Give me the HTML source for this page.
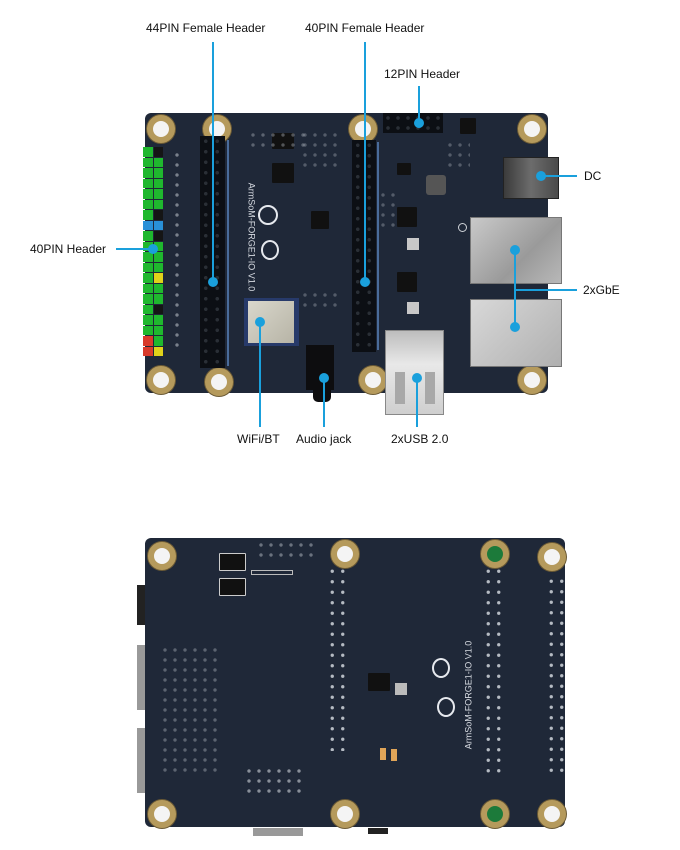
<!DOCTYPE html>
<html><head><style>
body{margin:0;width:680px;height:850px;background:#fff;position:relative;overflow:hidden;font-family:"Liberation Sans",sans-serif}
.a{position:absolute}
.board{background:#1f2838;border-radius:6px}
.hole{position:absolute;width:16px;height:16px;border-radius:50%;background:#f4f4f4;border:6px solid #b59a5c;box-shadow:0 0 0 1px #6b5a35}
.lbl{position:absolute;font-size:12px;color:#111;white-space:nowrap}
.ln{position:absolute;background:#1aa0dc}
.dot{position:absolute;width:10px;height:10px;border-radius:50%;background:#1aa0dc}
.fh{position:absolute;background:#0c0f14;background-image:radial-gradient(circle,#2a2f36 1.6px,transparent 2px);background-size:11.5px 10.5px}
.chip{position:absolute;background:#111;border-radius:1px}
.eth{position:absolute;background:linear-gradient(135deg,#c9c9c9,#9a9a9a 60%,#b8b8b8);border:1px solid #777}
.pad{position:absolute;background-image:radial-gradient(circle,#b5bbc3 1.4px,transparent 2px);background-size:10px 10px}
.silk{position:absolute;color:#d7dbe2;font-size:9px}
</style></head><body>

<!-- ===== top board ===== -->
<div class="a board" style="left:145px;top:113px;width:403px;height:280px"></div>
<div class="hole" style="left:147px;top:115px"></div>
<div class="hole" style="left:203px;top:115px"></div>
<div class="hole" style="left:349px;top:115px"></div>
<div class="hole" style="left:518px;top:115px"></div>
<div class="hole" style="left:147px;top:366px"></div>
<div class="hole" style="left:205px;top:368px"></div>
<div class="hole" style="left:359px;top:366px"></div>
<div class="hole" style="left:518px;top:366px"></div>

<div id="ph" class="a" style="left:143px;top:147px;width:21px;height:210px"></div>
<div class="pad" style="left:172px;top:150px;width:12px;height:200px;opacity:.6"></div>
<div class="fh" style="left:200px;top:136px;width:25px;height:232px"></div>
<div class="a" style="left:227px;top:140px;width:2px;height:226px;background:#4a6c9a"></div>
<div class="fh" style="left:352px;top:140px;width:24px;height:212px"></div>
<div class="a" style="left:377px;top:142px;width:2px;height:208px;background:#4a6c9a"></div>
<div class="fh" style="left:383px;top:113px;width:60px;height:20px;background-size:10px 10px"></div>
<div class="chip" style="left:272px;top:133px;width:22px;height:16px"></div>
<div class="chip" style="left:272px;top:163px;width:22px;height:20px"></div>
<div class="chip" style="left:311px;top:211px;width:18px;height:18px"></div>
<div class="chip" style="left:397px;top:207px;width:20px;height:20px"></div>
<div class="chip" style="left:397px;top:272px;width:20px;height:20px"></div>
<div class="chip" style="left:397px;top:163px;width:14px;height:12px"></div>
<div class="chip" style="left:460px;top:118px;width:16px;height:16px"></div>
<div class="a" style="left:426px;top:175px;width:20px;height:20px;background:#555;border-radius:3px"></div>
<div class="a" style="left:407px;top:238px;width:12px;height:12px;background:#c8c8c8"></div>
<div class="a" style="left:407px;top:302px;width:12px;height:12px;background:#c8c8c8"></div>
<div class="a" style="left:458px;top:223px;width:7px;height:7px;border-radius:50%;border:1px solid #cfd3d8"></div>
<div class="pad" style="left:248px;top:130px;width:60px;height:22px;opacity:.4"></div>
<div class="pad" style="left:300px;top:130px;width:40px;height:40px;opacity:.35"></div>
<div class="pad" style="left:378px;top:190px;width:20px;height:40px;opacity:.35"></div>
<div class="pad" style="left:445px;top:140px;width:25px;height:30px;opacity:.35"></div>
<div class="pad" style="left:300px;top:290px;width:40px;height:20px;opacity:.35"></div>
<div class="a" style="left:258px;top:205px;width:16px;height:16px;border:2px solid #e6e9ee;border-radius:50%"></div>
<div class="a" style="left:261px;top:240px;width:14px;height:16px;border:2px solid #e6e9ee;border-radius:50%"></div>
<div class="silk" style="left:197px;top:232px;transform:rotate(90deg);font-size:9px">ArmSoM-FORGE1-IO V1.0</div>
<div class="a" style="left:244px;top:298px;width:55px;height:48px;background:#273a6a"></div>
<div class="a" style="left:248px;top:301px;width:46px;height:42px;background:linear-gradient(135deg,#d9d7cc,#b7b4a6)"></div>
<div class="a" style="left:306px;top:345px;width:28px;height:45px;background:#0d0d0f"></div>
<div class="a" style="left:313px;top:388px;width:18px;height:14px;background:#0d0d0f;border-radius:0 0 5px 5px"></div>
<div class="a" style="left:385px;top:330px;width:57px;height:83px;background:linear-gradient(180deg,#bdbdbd,#e8e8e8 40%,#cfcfcf);border:1px solid #888"></div>
<div class="a" style="left:395px;top:372px;width:10px;height:32px;background:#a8a8a8"></div>
<div class="a" style="left:425px;top:372px;width:10px;height:32px;background:#a8a8a8"></div>
<div class="a" style="left:503px;top:157px;width:54px;height:40px;background:linear-gradient(90deg,#3b3b3b,#6c6c6c 50%,#4a4a4a);border:1px solid #222"></div>
<div class="eth" style="left:470px;top:217px;width:90px;height:65px"></div>
<div class="eth" style="left:470px;top:299px;width:90px;height:66px;background:linear-gradient(135deg,#d8d8d8,#b0b0b0)"></div>

<div class="lbl" style="left:146px;top:21px">44PIN Female Header</div>
<div class="ln" style="left:212px;top:42px;width:2px;height:240px"></div>
<div class="dot" style="left:208px;top:277px"></div>
<div class="lbl" style="left:305px;top:21px">40PIN Female Header</div>
<div class="ln" style="left:364px;top:42px;width:2px;height:240px"></div>
<div class="dot" style="left:360px;top:277px"></div>
<div class="lbl" style="left:384px;top:67px">12PIN Header</div>
<div class="ln" style="left:418px;top:86px;width:2px;height:36px"></div>
<div class="dot" style="left:414px;top:118px"></div>
<div class="lbl" style="left:584px;top:169px">DC</div>
<div class="ln" style="left:540px;top:175px;width:37px;height:2px"></div>
<div class="dot" style="left:536px;top:171px"></div>
<div class="lbl" style="left:583px;top:283px">2xGbE</div>
<div class="ln" style="left:514px;top:289px;width:63px;height:2px"></div>
<div class="ln" style="left:514px;top:250px;width:2px;height:78px"></div>
<div class="dot" style="left:510px;top:245px"></div>
<div class="dot" style="left:510px;top:322px"></div>
<div class="lbl" style="left:30px;top:242px">40PIN Header</div>
<div class="ln" style="left:116px;top:248px;width:36px;height:2px"></div>
<div class="dot" style="left:148px;top:244px"></div>
<div class="lbl" style="left:237px;top:432px">WiFi/BT</div>
<div class="ln" style="left:259px;top:322px;width:2px;height:105px"></div>
<div class="dot" style="left:255px;top:317px"></div>
<div class="lbl" style="left:296px;top:432px">Audio jack</div>
<div class="ln" style="left:323px;top:378px;width:2px;height:49px"></div>
<div class="dot" style="left:319px;top:373px"></div>
<div class="lbl" style="left:391px;top:432px">2xUSB 2.0</div>
<div class="ln" style="left:416px;top:378px;width:2px;height:49px"></div>
<div class="dot" style="left:412px;top:373px"></div>

<!-- ===== bottom board ===== -->
<div class="a" style="left:137px;top:585px;width:12px;height:40px;background:#222"></div>
<div class="a" style="left:137px;top:645px;width:12px;height:65px;background:#999"></div>
<div class="a" style="left:137px;top:728px;width:12px;height:65px;background:#999"></div>
<div class="a board" style="left:145px;top:538px;width:420px;height:289px"></div>
<div class="a" style="left:253px;top:828px;width:50px;height:8px;background:#999"></div>
<div class="a" style="left:368px;top:828px;width:20px;height:6px;background:#222"></div>
<div class="hole" style="left:148px;top:542px"></div>
<div class="hole" style="left:331px;top:540px"></div>
<div class="hole" style="left:481px;top:540px;background:#1c7a3a"></div>
<div class="hole" style="left:538px;top:543px"></div>
<div class="hole" style="left:148px;top:800px"></div>
<div class="hole" style="left:331px;top:800px"></div>
<div class="hole" style="left:481px;top:800px;background:#1c7a3a"></div>
<div class="hole" style="left:538px;top:800px"></div>
<div class="pad" style="left:327px;top:566px;width:22px;height:185px;background-size:10.5px 10.5px"></div>
<div class="pad" style="left:483px;top:566px;width:22px;height:210px;background-size:10.5px 10.5px"></div>
<div class="pad" style="left:546px;top:576px;width:22px;height:200px;background-size:10.5px 10.5px"></div>
<div class="pad" style="left:256px;top:540px;width:60px;height:20px;opacity:.5"></div>
<div class="pad" style="left:160px;top:645px;width:60px;height:130px;opacity:.4"></div>
<div class="pad" style="left:244px;top:766px;width:60px;height:30px;opacity:.7"></div>
<div class="chip" style="left:219px;top:553px;width:25px;height:16px;border:1px solid #ccc"></div>
<div class="chip" style="left:219px;top:578px;width:25px;height:16px;border:1px solid #ccc"></div>
<div class="chip" style="left:368px;top:673px;width:22px;height:18px"></div>
<div class="a" style="left:395px;top:683px;width:12px;height:12px;background:#bbb"></div>
<div class="a" style="left:380px;top:748px;width:6px;height:12px;background:#e0a558"></div>
<div class="a" style="left:391px;top:749px;width:6px;height:12px;background:#e0a558"></div>
<div class="a" style="left:251px;top:570px;width:40px;height:3px;border:1px solid #bbb"></div>
<div class="a" style="left:432px;top:658px;width:14px;height:16px;border:2px solid #e6e9ee;border-radius:50%"></div>
<div class="a" style="left:437px;top:697px;width:14px;height:16px;border:2px solid #e6e9ee;border-radius:50%"></div>
<div class="silk" style="left:414px;top:690px;transform:rotate(-90deg);font-size:9px">ArmSoM-FORGE1-IO V1.0</div>

<script>
var ph=document.getElementById('ph'),c=['g','g','g','g','g','g','g','b','g','g','g','g','g','g','g','g','g','g','r','r'],c2=['k','g','g','g','g','g','k','b','k','g','g','g','y','g','g','k','g','g','g','y'];
var col={g:'#1fb82e',k:'#151515',b:'#2990d8',r:'#d83a2a',y:'#e0d21a'};
for(var i=0;i<20;i++){for(var j=0;j<2;j++){var d=document.createElement('div');d.className='a';d.style.cssText='left:'+(j*10.5)+'px;top:'+(i*10.5)+'px;width:9.5px;height:9.5px;background:'+col[(j?c2:c)[i]];ph.appendChild(d);}}
</script>
</body></html>
